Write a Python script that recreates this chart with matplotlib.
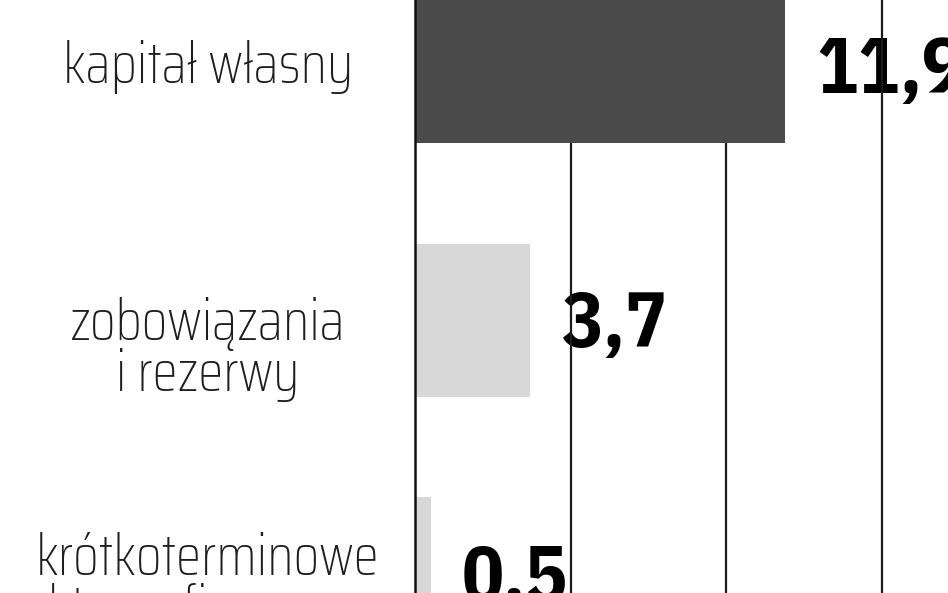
import matplotlib
matplotlib.use("Agg")
import matplotlib.pyplot as plt

categories = ["kapitał własny", "zobowiązania\ni rezerwy", "krótkoterminowe\naktywa finansowe"]
values = [11.9, 3.7, 0.5]
value_labels = ["11,9", "3,7", "0,5"]
bar_colors = ["#4a4a4a", "#d8d8d8", "#d8d8d8"]
grid_ticks = [5, 10, 15]

LABEL_FONT = ["Saira Condensed", "DejaVu Sans"]
VALUE_FONT = ["IBM Plex Sans Condensed", "DejaVu Sans"]

W, H = 948, 593
fig = plt.figure(figsize=(W / 100, H / 100), dpi=100)
x0 = 415 / W
ax = fig.add_axes([x0, 0, 1 - x0, 1])
ppu = 31.1            # pixels per unit on the x axis
step = 253.7          # pixels between category centres
c0 = 66.5             # pixel y of the first category centre
ax.set_xlim(0, (W - 415) / ppu)
ax.set_ylim((H - c0) / step, -c0 / step)

def py(p):
    return (p - c0) / step

for g in grid_ticks:
    ax.axvline(g, color="#1a1a1a", lw=1.6, zorder=1)
ax.barh(range(len(values)), values, height=153 / step, color=bar_colors, zorder=2)
for s in ["top", "right", "bottom"]:
    ax.spines[s].set_visible(False)
ax.spines["left"].set_linewidth(1.8)
ax.spines["left"].set_color("#111111")
ax.spines["left"].set_zorder(3)
ax.set_xticks([])
ax.set_yticks([])

for i, (v, lab) in enumerate(zip(values, value_labels)):
    ax.text(v + 31 / ppu, i + py(c0 + 27), lab, ha="left", va="baseline", fontsize=56,
            fontweight="bold", color="black", family=VALUE_FONT, zorder=0, clip_on=False)

first_baseline = [83, 340, 575]
line_gap = 51
for i, cat in enumerate(categories):
    for j, line in enumerate(cat.split("\n")):
        yb = first_baseline[i] + j * line_gap
        ax.text(-207 / ppu, py(yb), line, ha="center", va="baseline",
                fontsize=41.5, fontweight="light", color="#1e1e1e",
                family=LABEL_FONT, clip_on=False)

fig.savefig("out.png", dpi=100)
